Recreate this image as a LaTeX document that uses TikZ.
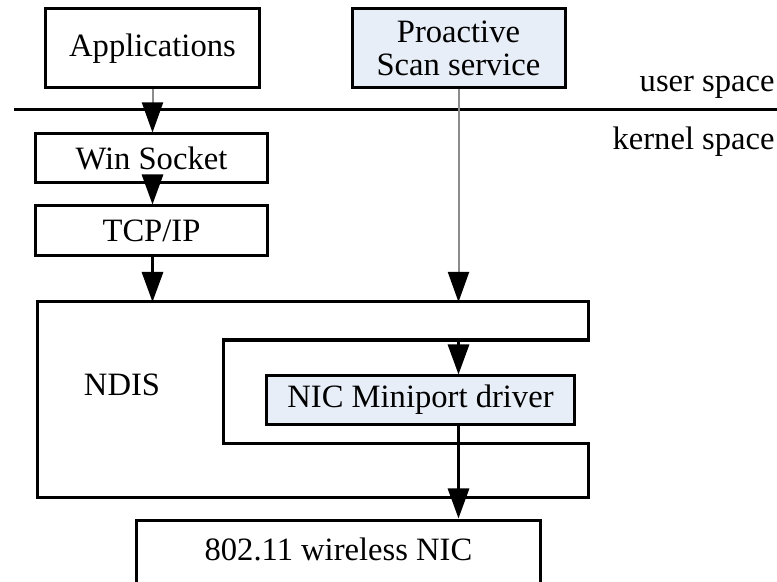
\documentclass[tikz,border=0pt]{standalone}
\usepackage{fontspec}
\setmainfont{Liberation Serif}
\usetikzlibrary{arrows.meta}

\definecolor{layerfill}{RGB}{232,238,248}
\definecolor{shaftgray}{RGB}{140,140,140}

\begin{document}
\begin{tikzpicture}[
    x=0.5bp,
    y=-0.5bp,
    font=\fontsize{16.3bp}{16.3bp}\selectfont,
    >={Triangle[length=15bp, width=10.5bp, black]},
    layer/.style={
        draw,
        line width=1.5bp,
        inner sep=0pt,
        align=center
    },
    driver/.style={
        layer,
        fill=layerfill
    },
    spacelabel/.style={
        anchor=base east,
        inner sep=0pt
    },
    flow/.style={
        ->,
        line width=1.5bp
    },
    userflow/.style={
        ->,
        line width=1bp,
        draw=shaftgray
    }
]

\useasboundingbox (0,0) rectangle (777,582);
\clip (0,0) rectangle (777,582);

% ==================================================
% User space
% ==================================================

\node[layer, minimum width=106.5bp, minimum height=39.5bp]
    (apps) at (152.5,48.5) {Applications};

\node[driver, minimum width=106.5bp, minimum height=39.5bp]
    (scan) at (458.5,48.5) {Proactive\\Scan service};

% border between user and kernel space
\draw[line width=1.5bp] (14,110) -- (777,110);

\node[spacelabel] (user) at (775,92) {user space};
\node[spacelabel] (kernel) at (775,150) {kernel space};

% ==================================================
% Kernel space
% ==================================================

\node[layer, minimum width=115.5bp, minimum height=24.5bp]
    (wsock) at (151.5,158.5) {Win Socket};

\node[layer, minimum width=115.5bp, minimum height=25bp]
    (tcpip) at (151.5,231) {TCP/IP};

% NDIS, open on the right round the miniport driver
\coordinate (ndistop) at (37,302);
\coordinate (notchtop) at (223,340);
\coordinate (notchbot) at (223,443);
\coordinate (ndisbot) at (588,497);

\draw[line width=1.5bp]
    (ndistop) -- (ndisbot |- ndistop) -- (ndisbot |- notchtop)
    -- (notchtop) -- (notchbot) -- (ndisbot |- notchbot)
    -- (ndisbot) -- (ndistop |- ndisbot) -- cycle;

\node (ndis) at (122,385) {NDIS};

\node[driver, minimum width=153.5bp, minimum height=24bp]
    (mini) at (420.5,400) {NIC Miniport driver};

% ==================================================
% Hardware
% ==================================================

\node[layer, minimum width=201.5bp, minimum height=40bp,
      text height=11bp, text depth=10.2bp]
    (wnic) at (338.5,560) {802.11 wireless NIC};

% ==================================================
% Data paths
% ==================================================

\draw[userflow] (apps.south) -- (apps.south |- wsock.north);
\draw[flow] (apps.south |- wsock.south) -- (apps.south |- tcpip.north);
\draw[flow] (apps.south |- tcpip.south) -- (apps.south |- ndistop);

\draw[userflow] (scan.south) -- (scan.south |- ndistop);
\draw[flow] (scan.south |- notchtop) -- (scan.south |- mini.north);
\draw[flow] (scan.south |- mini.south) -- (scan.south |- wnic.north);

\end{tikzpicture}
\end{document}
